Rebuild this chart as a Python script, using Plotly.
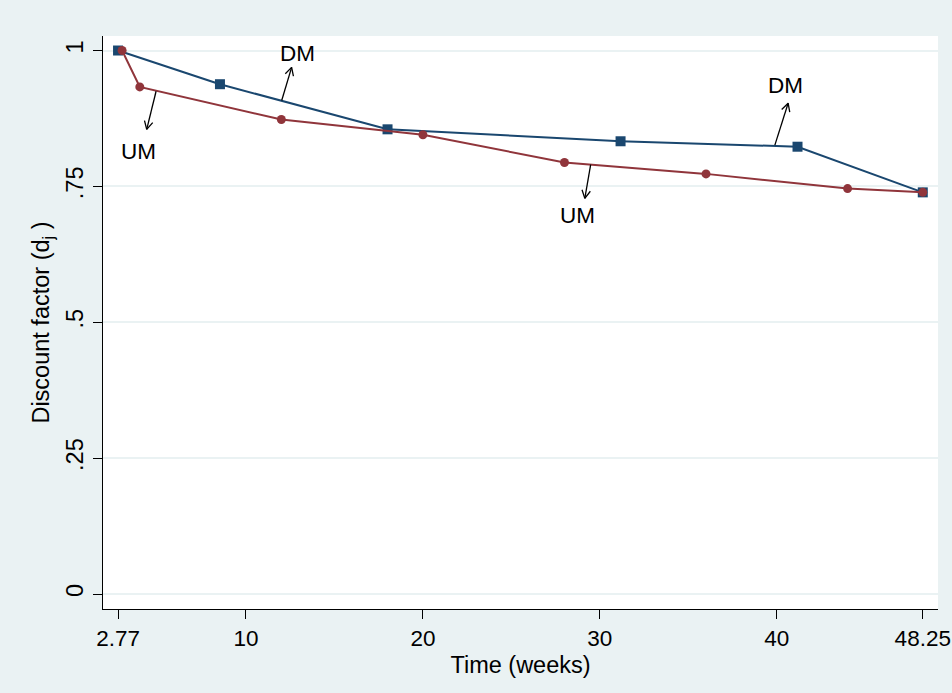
import math
import plotly.graph_objects as go

# ---- data ----
dm_x = [2.77, 8.53, 18.0, 31.17, 41.17, 48.25]
dm_y = [1.0, 0.938, 0.855, 0.833, 0.823, 0.739]
um_x = [3.0, 4.0, 12.0, 20.0, 28.0, 36.0, 44.0, 48.25]
um_y = [1.0, 0.933, 0.873, 0.845, 0.794, 0.773, 0.746, 0.739]

x_tickvals = [2.77, 10, 20, 30, 40, 48.25]
x_ticktext = ["2.77", "10", "20", "30", "40", "48.25"]
y_tickvals = [0, 0.25, 0.5, 0.75, 1]
y_ticktext = ["0", ".25", ".5", ".75", "1"]

# annotation labels: text, text position, arrow tail, arrow head
ann_text = ["DM", "UM", "UM", "DM"]
ann_pos = [(12.94, 0.994), (3.92, 0.814), (28.72, 0.697), (40.49, 0.935)]
arrow_tail = [(12.02, 0.908), (4.92, 0.925), (29.48, 0.790), (39.89, 0.826)]
arrow_head = [(12.58, 0.969), (4.39, 0.855), (29.15, 0.728), (40.64, 0.903)]

# ---- layout constants ----
W, H = 952, 693
ML, MR, MT, MB = 103, 14, 36, 84
XR = [1.92, 49.11]
YR = [-0.0276, 1.0267]
FONT = "Liberation Sans, Arial, sans-serif"
FS = 22.5
XTICKFS = 22.5
YTICKFS = 23.5
TITLEFS = 23.5
BLUE = "#1a476f"
RED = "#90353b"
BG = "#eaf2f3"

pw = W - ML - MR
ph = H - MT - MB
sx = pw / (XR[1] - XR[0])
sy = ph / (YR[1] - YR[0])

fig = go.Figure()

fig.add_trace(go.Scatter(
    x=dm_x, y=dm_y, mode="lines+markers", name="DM",
    line=dict(color=BLUE, width=2),
    marker=dict(symbol="square", size=10, color=BLUE),
))
fig.add_trace(go.Scatter(
    x=um_x, y=um_y, mode="lines+markers", name="UM",
    line=dict(color=RED, width=2),
    marker=dict(symbol="circle", size=9, color=RED),
))

# arrows with open V heads
ax_, ay_ = [], []
barb_len = 9
barb_ang = math.radians(28)
for (tx, ty), (hx, hy) in zip(arrow_tail, arrow_head):
    ax_ += [tx, hx, None]
    ay_ += [ty, hy, None]
    dx = (tx - hx) * sx
    dy = (ty - hy) * sy
    ang = math.atan2(dy, dx)
    for s in (-1, 1):
        a = ang + s * barb_ang
        bx = hx + barb_len * math.cos(a) / sx
        by = hy + barb_len * math.sin(a) / sy
        ax_ += [bx, hx]
        ay_ += [by, hy]
    ax_ += [None]
    ay_ += [None]
fig.add_trace(go.Scatter(
    x=ax_, y=ay_, mode="lines", line=dict(color="black", width=1.3),
    hoverinfo="skip", showlegend=False,
))

for t, (px, py) in zip(ann_text, ann_pos):
    fig.add_annotation(x=px, y=py, text=t, showarrow=False,
                       font=dict(family=FONT, size=FS, color="black"),
                       xanchor="center", yanchor="middle")

fig.update_layout(
    width=W, height=H,
    margin=dict(l=ML, r=MR, t=MT, b=MB, autoexpand=False),
    paper_bgcolor=BG, plot_bgcolor="white",
    showlegend=False,
    font=dict(family=FONT, size=FS, color="black"),
)
fig.update_xaxes(
    range=XR, tickvals=x_tickvals, ticktext=x_ticktext,
    tickfont=dict(family=FONT, size=XTICKFS, color="black"),
    showgrid=False, zeroline=False, automargin=False,
    showline=True, linecolor="black", linewidth=1.3,
    ticks="outside", ticklen=9, tickwidth=1.3, tickcolor="black",
    title=dict(text="Time (weeks)", standoff=6,
               font=dict(family=FONT, size=TITLEFS, color="black")),
)
fig.update_yaxes(
    range=YR, tickvals=y_tickvals, ticktext=y_ticktext, tickangle=-90,
    tickfont=dict(family=FONT, size=YTICKFS, color="black"),
    showgrid=True, gridcolor=BG, gridwidth=1.5, zeroline=False, automargin=False,
    showline=True, linecolor="black", linewidth=1.3,
    ticks="outside", ticklen=9, tickwidth=1.3, tickcolor="black",
    title=dict(text="Discount factor (d<sub>j</sub> )", standoff=6,
               font=dict(family=FONT, size=TITLEFS, color="black")),
)

fig.write_html("out.html")
